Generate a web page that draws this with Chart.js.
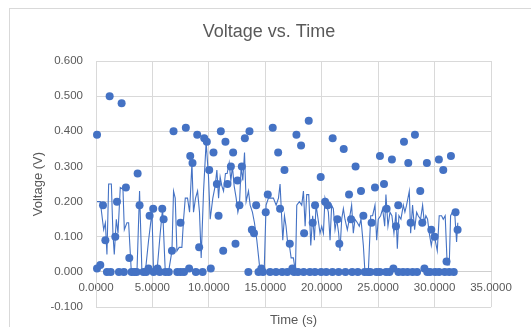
<!DOCTYPE html>
<html>
<head>
<meta charset="utf-8">
<script src="https://cdn.jsdelivr.net/npm/chart.js@4/dist/chart.umd.min.js"></script>
<style>
  html, body { margin: 0; padding: 0; background: #ffffff; }
  #wrap { width: 531px; height: 327px; }
</style>
</head>
<body>
<div id="wrap"><canvas id="c" width="531" height="327"></canvas></div>
<script>
// ---- data ----
const chartTitle = "Voltage vs. Time";
const xTitle = "Time (s)";
const yTitle = "Voltage (V)";

const dotTime = [0.09,0.09,0.38,0.62,0.83,0.97,1.21,1.30,1.71,1.86,2.03,2.27,2.47,2.65,2.95,3.15,3.40,3.60,3.69,3.86,4.20,4.45,4.65,4.75,5.07,5.10,5.45,5.65,5.87,5.99,6.15,6.45,6.73,6.87,7.20,7.49,7.50,7.80,7.96,8.25,8.35,8.55,8.85,8.97,9.14,9.45,9.59,9.82,10.03,10.17,10.41,10.71,10.86,11.06,11.27,11.47,11.65,11.95,12.15,12.36,12.54,12.71,12.92,13.19,13.50,13.60,13.81,14.00,14.19,14.40,14.65,14.80,15.04,15.22,15.43,15.66,15.95,16.14,16.31,16.50,16.70,16.95,17.17,17.40,17.55,17.76,17.90,18.17,18.40,18.44,18.85,18.95,19.20,19.40,19.41,19.91,19.95,20.30,20.40,20.53,20.95,20.97,21.39,21.50,21.56,21.95,22.10,22.42,22.60,22.70,23.00,23.20,23.48,23.69,23.80,24.10,24.30,24.42,24.72,24.85,25.15,25.16,25.52,25.70,25.75,26.00,26.22,26.35,26.58,26.78,26.80,27.20,27.29,27.60,27.67,27.88,28.05,28.26,28.45,28.73,28.91,29.10,29.32,29.35,29.60,29.71,30.00,30.05,30.38,30.40,30.77,30.90,31.06,31.30,31.45,31.70,31.86,32.04];
const dotVolt = [0.39,0.01,0.02,0.19,0.09,0.00,0.50,0.00,0.10,0.20,0.00,0.48,0.00,0.24,0.04,0.00,0.00,0.00,0.28,0.19,0.00,0.00,0.01,0.16,0.18,0.00,0.01,0.00,0.18,0.15,0.00,0.00,0.06,0.40,0.00,0.14,0.00,0.00,0.41,0.01,0.33,0.31,0.00,0.39,0.07,0.00,0.38,0.37,0.29,0.01,0.34,0.25,0.16,0.40,0.06,0.37,0.25,0.30,0.34,0.08,0.26,0.19,0.30,0.38,0.00,0.40,0.12,0.11,0.19,0.00,0.01,0.00,0.17,0.22,0.00,0.41,0.00,0.34,0.18,0.00,0.29,0.00,0.08,0.01,0.00,0.39,0.00,0.36,0.00,0.11,0.43,0.00,0.14,0.00,0.19,0.27,0.00,0.20,0.00,0.19,0.00,0.38,0.15,0.00,0.08,0.35,0.00,0.22,0.15,0.00,0.30,0.00,0.23,0.16,0.00,0.00,0.00,0.14,0.24,0.00,0.00,0.33,0.25,0.00,0.18,0.00,0.32,0.01,0.13,0.19,0.00,0.00,0.37,0.00,0.31,0.14,0.00,0.39,0.00,0.23,0.14,0.01,0.31,0.00,0.00,0.12,0.10,0.00,0.32,0.00,0.29,0.00,0.03,0.00,0.33,0.00,0.17,0.12];

const lineTime = [0.09,0.38,0.68,0.83,0.97,1.12,1.36,1.50,1.62,1.80,1.95,2.15,2.39,2.51,2.74,2.89,3.13,3.33,3.63,3.86,4.07,4.37,4.66,4.96,5.10,5.40,5.69,5.90,6.14,6.43,6.73,6.87,7.02,7.17,7.37,7.61,7.76,7.91,8.11,8.29,8.50,8.64,8.82,9.00,9.17,9.32,9.53,9.76,9.97,10.12,10.35,10.56,10.71,10.86,11.00,11.15,11.30,11.47,11.62,11.80,11.95,12.09,12.24,12.42,12.57,12.71,12.86,13.01,13.16,13.30,13.51,13.66,13.86,14.04,14.25,14.48,14.69,14.90,15.07,15.28,15.49,15.72,15.96,16.17,16.31,16.55,16.70,16.84,16.96,17.14,17.29,17.49,17.67,17.79,18.02,18.23,18.38,18.53,18.67,18.85,19.03,19.20,19.35,19.50,19.68,19.85,20.00,20.15,20.29,20.44,20.59,20.74,20.88,21.03,21.18,21.33,21.50,21.62,21.77,21.92,22.06,22.27,22.45,22.65,22.80,22.95,23.16,23.33,23.48,23.69,23.83,24.13,24.34,24.51,24.72,24.87,25.01,25.22,25.40,25.58,25.69,25.87,26.05,26.22,26.40,26.58,26.70,26.84,27.02,27.23,27.37,27.52,27.76,27.88,28.05,28.23,28.41,28.55,28.76,28.94,29.09,29.23,29.38,29.53,29.71,29.88,30.06,30.24,30.41,30.62,30.77,30.94,31.12,31.30,31.42,31.59,31.80,31.95,32.06];
const lineVolt = [0.20,0.20,0.12,0.14,0.05,0.25,0.25,0.11,0.05,0.15,0.11,0.24,0.235,0.12,0.14,0.14,0.00,0.00,0.00,0.23,0.00,0.00,0.09,0.17,0.00,0.00,0.11,0.18,0.00,0.00,0.06,0.23,0.21,0.06,0.07,0.07,0.15,0.21,0.21,0.17,0.31,0.17,0.21,0.23,0.17,0.04,0.23,0.37,0.27,0.15,0.21,0.245,0.29,0.21,0.27,0.245,0.23,0.28,0.28,0.31,0.26,0.30,0.245,0.21,0.17,0.19,0.30,0.26,0.34,0.20,0.23,0.19,0.17,0.14,0.09,0.02,0.00,0.00,0.19,0.21,0.21,0.21,0.19,0.21,0.25,0.09,0.16,0.13,0.09,0.075,0.04,0.04,0.00,0.19,0.20,0.19,0.23,0.13,0.22,0.22,0.075,0.16,0.09,0.19,0.15,0.11,0.13,0.11,0.21,0.19,0.17,0.09,0.19,0.18,0.12,0.15,0.11,0.06,0.15,0.18,0.15,0.12,0.15,0.19,0.11,0.15,0.14,0.13,0.15,0.075,0.00,0.00,0.16,0.16,0.19,0.09,0.15,0.16,0.18,0.13,0.22,0.13,0.17,0.16,0.11,0.17,0.066,0.16,0.15,0.19,0.17,0.19,0.23,0.11,0.19,0.12,0.17,0.16,0.15,0.19,0.14,0.16,0.15,0.11,0.075,0.11,0.09,0.06,0.16,0.16,0.15,0.16,0.02,0.02,0.16,0.17,0.16,0.085,0.14];

const xMin = 0, xMax = 35, xStep = 5;
const yMin = -0.1, yMax = 0.6, yStep = 0.1;

// ---- chart ----
const BLUE = '#4472C4';
const TEXT = '#595959';
const GRID = '#d9d9d9';
const FONT = '"Liberation Sans", Arial, sans-serif';

function fmt(v, d) {
  const n = Math.abs(v) < 1e-9 ? 0 : Number(v);
  return n.toFixed(d);
}

const decor = {
  id: 'decor',
  beforeDraw(chart) {
    const ctx = chart.ctx;
    ctx.save();
    ctx.fillStyle = '#ffffff';
    ctx.fillRect(0, 0, chart.width, chart.height);
    ctx.strokeStyle = GRID;
    ctx.lineWidth = 1;
    ctx.strokeRect(9.5, 8.5, 560, 360);
    ctx.restore();
  },
  afterDraw(chart) {
    const ctx = chart.ctx;
    const a = chart.chartArea;
    ctx.save();
    ctx.fillStyle = TEXT;
    ctx.textAlign = 'center';
    ctx.textBaseline = 'middle';
    ctx.font = '18px ' + FONT;
    ctx.fillText(chartTitle, 269, 32);
    ctx.font = '13px ' + FONT;
    ctx.fillText(xTitle, (a.left + a.right) / 2, 320);
    ctx.restore();
  }
};

new Chart(document.getElementById('c'), {
  type: 'scatter',
  data: {
    datasets: [
      {
        label: 'Points',
        data: dotTime.map((t, i) => ({ x: t, y: dotVolt[i] })),
        showLine: false,
        clip: false,
        pointRadius: 4,
        pointHoverRadius: 4,
        pointBackgroundColor: BLUE,
        pointBorderWidth: 0,
        backgroundColor: BLUE,
        borderColor: BLUE
      },
      {
        label: 'Trace',
        data: lineTime.map((t, i) => ({ x: t, y: lineVolt[i] })),
        showLine: true,
        clip: false,
        pointRadius: 0,
        borderColor: BLUE,
        borderWidth: 1.1,
        tension: 0,
        fill: false
      }
    ]
  },
  options: {
    responsive: false,
    animation: false,
    devicePixelRatio: 1,
    layout: { padding: { top: 61, right: 40, bottom: 18, left: 0 } },
    plugins: {
      legend: { display: false },
      tooltip: { enabled: false },
      title: { display: false }
    },
    scales: {
      x: {
        type: 'linear',
        position: { y: 0 },
        min: xMin, max: xMax,
        ticks: {
          stepSize: xStep,
          color: TEXT,
          font: { family: FONT, size: 11.5 },
          padding: 9,
          maxRotation: 0,
          callback: v => fmt(v, 4)
        },
        grid: { color: GRID, lineWidth: 1, drawTicks: false },
        border: { display: true, color: '#cfcfcf', width: 1 }
      },
      y: {
        type: 'linear',
        min: yMin, max: yMax,
        afterFit: s => { s.width = 96; },
        ticks: {
          stepSize: yStep,
          color: TEXT,
          font: { family: FONT, size: 11.5 },
          padding: 13,
          callback: v => fmt(v, 3)
        },
        grid: { color: GRID, lineWidth: 1, drawTicks: false },
        border: { display: true, color: GRID, width: 1 },
        title: {
          display: true,
          text: yTitle,
          color: TEXT,
          font: { family: FONT, size: 13 },
          padding: { top: 31, bottom: 0 }
        }
      }
    }
  },
  plugins: [decor]
});
</script>
</body>
</html>
